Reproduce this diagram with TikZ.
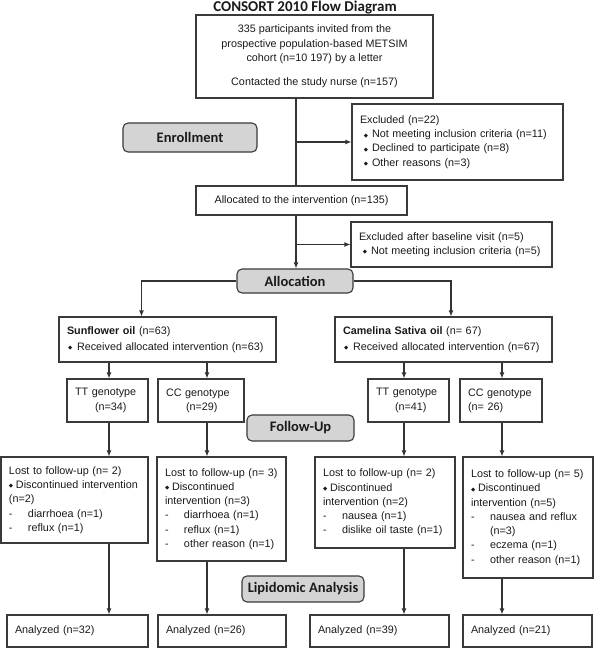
\documentclass[tikz,border=0pt]{standalone}
\usepackage{fontspec}
\setmainfont{Liberation Sans}
\newfontfamily\calfont{Carlito}
\newfontfamily\dejafont{DejaVu Sans}
\usetikzlibrary{arrows.meta}
\definecolor{bc}{HTML}{3A3A3A}
\definecolor{lc}{HTML}{333333}
\definecolor{pc}{HTML}{D4D4D4}
\definecolor{tc}{HTML}{1A1A1A}
\newcommand\fs{\fontsize{10.8}{14.3}\selectfont\hyphenpenalty=10000\relax}
\newcommand\phfont{\calfont\bfseries\fontsize{14.5}{16}\selectfont}
\newcommand\dia{{\dejafont\fontsize{5.5}{5.5}\selectfont\raisebox{0.6pt}{◆}}}
\newcommand\bitem{\makebox[12pt][c]{\dia}}
\newcommand\bsun{\makebox[10pt][l]{\hspace{1pt}\dia}}
\newcommand\bdis{\makebox[7pt][l]{\dia}}
\newcommand\dsh{\makebox[19pt][l]{-}}
\tikzset{
  bx/.style={draw=bc, line width=1.1pt, inner ysep=0pt, inner xsep=8pt, text=tc, font=\fs},
  cbx/.style 2 args={bx, inner xsep=0pt, minimum width=#1, minimum height=#2, align=center},
  lbx/.style 2 args={bx, text width=#1, minimum height=#2, align=left},
  phase/.style 2 args={draw=bc, fill=pc, rounded corners=5pt, line width=1.1pt,
     minimum width=#1, minimum height=#2, inner sep=0pt, text=tc, font=\phfont},
  arr/.style={draw=lc, line width=1.1pt, -{Latex[length=6pt,width=5pt]}},
  ln/.style={draw=lc, line width=1.1pt}
}
\begin{document}
\begin{tikzpicture}[x=1pt,y=-1pt]
\useasboundingbox (0,0) rectangle (600,648);
% title
\node[font=\calfont\bfseries\fontsize{15}{18}\selectfont, text=tc, anchor=base] (title) at (305,11.5) {CONSORT 2010 Flow Diagram};
% column coordinates
\coordinate (m) at (296,0);
\coordinate (sa) at (141.5,0);
\coordinate (ca) at (451,0);
\coordinate (c1) at (109,0);
\coordinate (c2) at (207,0);
\coordinate (c3) at (404,0);
\coordinate (c4) at (502,0);
% boxes
\node[cbx={237pt}{83pt}] (top) at (314.5,56.5) {335 participants invited from the\\prospective population-based METSIM\\cohort (n=10 197) by a letter\\[10pt]Contacted the study nurse (n=157)};
\node[lbx={195pt}{76pt}] (excl) at (457.5,142) {Excluded (n=22)\\\bitem Not meeting inclusion criteria (n=11)\\\bitem Declined to participate (n=8)\\\bitem Other reasons (n=3)};
\node[cbx={211pt}{29pt}] (alloc) at (301.5,200.5) {Allocated to the intervention (n=135)};
\node[lbx={185pt}{45pt}] (excl2) at (451.5,244.5) {Excluded after baseline visit (n=5)\\\bitem Not meeting inclusion criteria (n=5)};
\node[phase={134pt}{29pt}] (enr) at (190,137.5) {Enrollment};
\node[phase={116pt}{24pt}] (allocn) at (295,281) {Allocation};
\node[lbx={201pt}{45pt}] (sun) at (167.5,339.5) {\textbf{Sunflower oil} (n=63)\\[2pt]\bsun Received allocated intervention (n=63)};
\node[lbx={201pt}{45pt}] (cam) at (443.5,339.5) {\textbf{Camelina Sativa oil} (n= 67)\\[2pt]\bsun Received allocated intervention (n=67)};
\node[lbx={65pt}{43pt}] (tt1) at (107.5,400.5) {TT genotype\\\hspace*{20pt}(n=34)};
\node[lbx={70pt}{43pt}] (cc1) at (201,400.5) {CC genotype\\\hspace*{20pt}(n=29)};
\node[lbx={65pt}{43pt}] (tt2) at (408.5,400.5) {TT genotype\\\hspace*{19pt}(n=41)};
\node[lbx={66pt}{43pt}] (cc2) at (501,400.5) {\mbox{CC genotype}\\(n= 26)};
\node[phase={107pt}{26pt}] (fol) at (300.5,428) {Follow-Up};
\node[lbx={131pt}{86pt}] (l1) at (74.5,500) {Lost to follow-up (n= 2)\\\bdis Discontinued intervention\\(n=2)\\\dsh diarrhoea (n=1)\\\dsh reflux (n=1)};
\node[lbx={113pt}{104pt}] (l2) at (221.5,509) {Lost to follow-up (n= 3)\\\bdis Discontinued\\intervention (n=3)\\\dsh diarrhoea (n=1)\\\dsh reflux (n=1)\\\dsh other reason (n=1)};
\node[lbx={124pt}{91pt}] (l3) at (385,502.5) {Lost to follow-up (n= 2)\\\bdis Discontinued\\intervention (n=2)\\\dsh nausea (n=1)\\\dsh dislike oil taste (n=1)};
\node[lbx={114pt}{121pt}] (l4) at (528,517.5) {Lost to follow-up (n= 5)\\\bdis Discontinued\\intervention (n=5)\\\dsh nausea and reflux\\\hspace*{19pt}(n=3)\\\dsh eczema (n=1)\\\dsh other reason (n=1)};
\node[phase={122pt}{26pt}] (lip) at (303,589) {Lipidomic Analysis};
\node[lbx={125pt}{32pt}] (a1) at (77.5,631) {Analyzed (n=32)};
\node[lbx={112pt}{32pt}] (a2) at (222,631) {Analyzed (n=26)};
\node[lbx={123pt}{32pt}] (a3) at (379.5,631) {Analyzed (n=39)};
\node[lbx={113pt}{32pt}] (a4) at (527.5,631) {Analyzed (n=21)};
% connectors
\draw[ln] (top.south -| m) -- (alloc.north -| m);
\draw[arr] (excl.west -| m) -- (excl.west);
\draw[arr] (alloc.south -| m) -- (allocn.north -| m);
\draw[arr] (excl2.west -| m) -- (excl2.west);
\draw[arr] (allocn.west) -| (sun.north -| sa);
\draw[arr] (allocn.east) -| (cam.north -| ca);
\draw[arr] (sun.south -| c1) -- (tt1.north -| c1);
\draw[arr] (sun.south -| c2) -- (cc1.north -| c2);
\draw[arr] (cam.south -| c3) -- (tt2.north -| c3);
\draw[arr] (cam.south -| c4) -- (cc2.north -| c4);
\draw[arr] (tt1.south -| c1) -- (l1.north -| c1);
\draw[arr] (cc1.south -| c2) -- (l2.north -| c2);
\draw[arr] (tt2.south -| c3) -- (l3.north -| c3);
\draw[arr] (cc2.south -| c4) -- (l4.north -| c4);
\draw[arr] (l1.south -| c1) -- (a1.north -| c1);
\draw[arr] (l2.south -| c2) -- (a2.north -| c2);
\draw[arr] (l3.south -| c3) -- (a3.north -| c3);
\draw[arr] (l4.south -| c4) -- (a4.north -| c4);
\end{tikzpicture}
\end{document}
